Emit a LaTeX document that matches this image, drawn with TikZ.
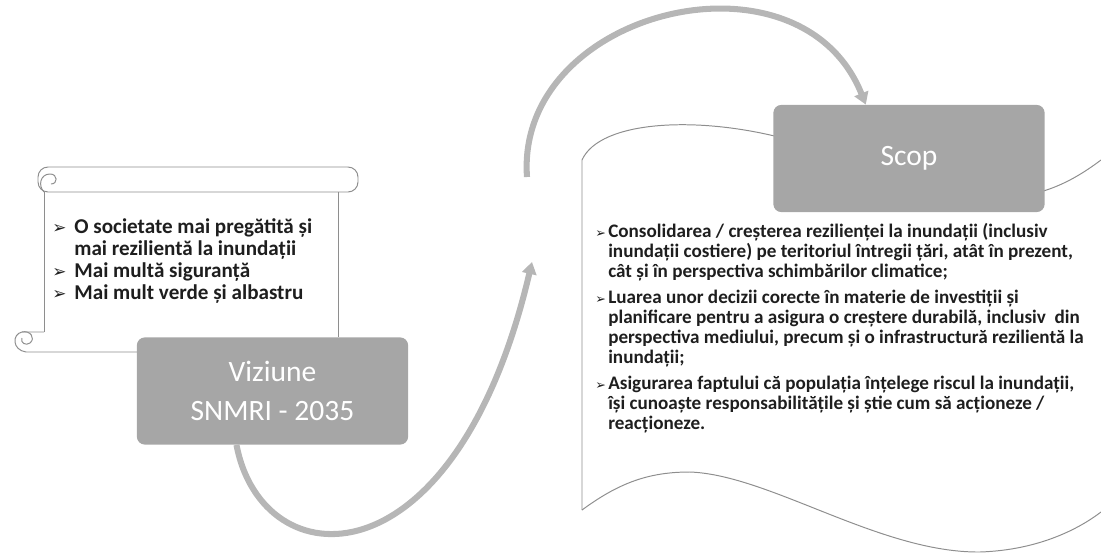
\documentclass[tikz,border=0pt]{standalone}
\usepackage{fontspec}
\setmainfont{Carlito}
\newfontfamily\symfont{DejaVu Sans}
\usepackage{array}
\usepackage{xcolor}
\usepackage{tikz}
\definecolor{boxgray}{HTML}{A6A6A6}
\definecolor{arrowgray}{HTML}{B6B6B6}
\definecolor{linegray}{HTML}{8E8E8E}
\definecolor{textdark}{HTML}{1E1E1E}
\usetikzlibrary{arrows.meta}
\newcommand{\arrbullet}[1]{{\symfont\fontsize{#1}{#1}\selectfont ➢}}
\tikzset{
	titlebox/.style={fill=boxgray, rounded corners=0.2cm, minimum width=6.78cm, minimum height=2.68cm, text=white, align=center, font=\fontsize{21}{28}\selectfont},
	bigarrow/.style={draw=arrowgray, line width=4.3pt, -{Triangle[width=0.36cm,length=0.3cm]}},
	outline/.style={draw=linegray, line width=0.7pt},
	listtext/.style={anchor=north west, inner sep=0pt, text=textdark, align=left},
}

\begin{document}
\begin{tikzpicture}[x=0.025cm, y=-0.025cm]
			\useasboundingbox (0,0) rectangle (1101,553);
			
			% scroll
			\draw[outline, rounded corners=0.25cm] (38,167) rectangle (358,192);
			\draw[outline] (44,192) .. controls (38,186) and (40,174) .. (50,174) .. controls (58,174) and (58,184) .. (51,184);
			\draw[outline] (44,192) -- (44,332);
			\draw[outline] (338,192) -- (338,337);
			\draw[outline] (44,332) -- (22,332) .. controls (12,334) and (12,350) .. (26,352) -- (137,352);
			\draw[outline] (22,332) .. controls (30,330) and (36,338) .. (30,343) .. controls (26,346) and (20,343) .. (22,338);
			
			% wave
			\draw[outline] (582,510) -- (582,160) .. controls (600,120) and (700,115) .. (790,140) .. controls (900,190) and (1000,200) .. (1040,192) .. controls (1065,185) and (1085,172) .. (1101,160);
			\draw[outline] (582,510) .. controls (620,482) and (650,472) .. (690,472) .. controls (770,475) and (880,553) .. (980,552) .. controls (1040,550) and (1080,528) .. (1101,512);
			
			\node[titlebox] (viz) at (272.5,391) {Viziune\\SNMRI - 2035};
			\node[titlebox] (scop) at (909,158.5) {Scop};
			
			\node[listtext, font=\fontsize{15}{15.6}\bfseries\selectfont] (vizlist) at (52,218) {%
				\begin{tabular}{@{}l@{\hspace{0.2cm}}l@{}}
				\arrbullet{12} & O societate mai pregătită și\\
				& mai rezilientă la inundații\\
				\arrbullet{12} & Mai multă siguranță\\
				\arrbullet{12} & Mai mult verde și albastru
				\end{tabular}};
			
			\node[listtext, font=\fontsize{13.6}{14.2}\bfseries\selectfont] (scoplist) at (595,223) {%
				\begin{tabular}{@{}l@{\hspace{0.06cm}}l@{}}
				\arrbullet{9} & Consolidarea / creșterea rezilienței la inundații (inclusiv\\
				& inundații costiere) pe teritoriul întregii țări, atât în prezent,\\
				& cât și în perspectiva schimbărilor climatice;\\[4.3pt]
				\arrbullet{9} & Luarea unor decizii corecte în materie de investiții și\\
				& planificare pentru a asigura o creștere durabilă, inclusiv \ din\\
				& perspectiva mediului, precum și o infrastructură rezilientă la\\
				& inundații;\\[4.3pt]
				\arrbullet{9} & Asigurarea faptului că populația înțelege riscul la inundații,\\
				& își cunoaște responsabilitățile și știe cum să acționeze /\\
				& reacționeze.
				\end{tabular}};
			
			\coordinate (waveleft) at (532,262);
			\coordinate (arcstart) at (527,177);
			
			\draw[bigarrow] ([xshift=-0.9cm]viz.south) .. controls (262,580) and (455,590) .. (waveleft);
			\draw[bigarrow] (arcstart) .. controls (515,10) and (800,-60) .. ([xshift=-1.08cm]scop.north);
			
\end{tikzpicture}
\end{document}
